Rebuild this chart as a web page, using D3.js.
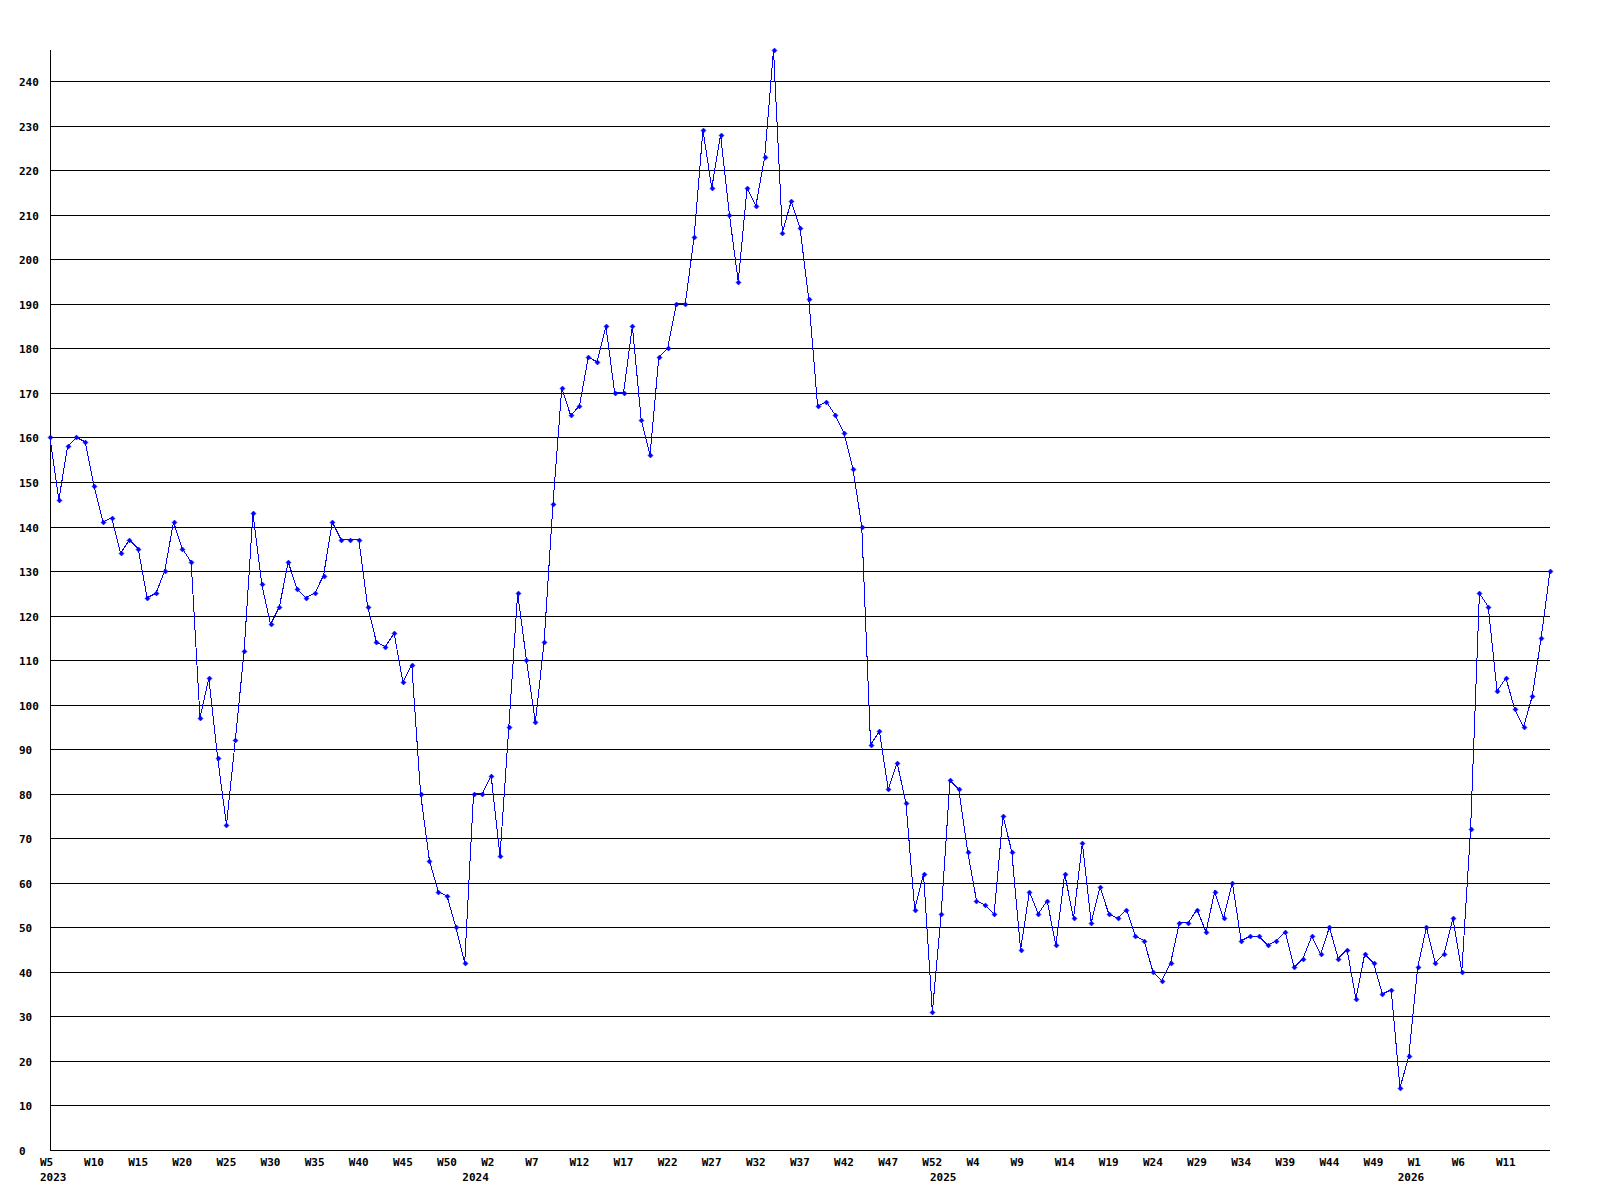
<!DOCTYPE html>
<html>
<head>
<meta charset="utf-8">
<script src="https://cdn.jsdelivr.net/npm/d3@7"></script>
<style>
  body { margin: 0; background: #fff; }
  svg text { font-family: "DejaVu Sans Mono", monospace; font-size: 11px; font-weight: bold; fill: #000; }
</style>
</head>
<body>
<svg id="chart" width="1600" height="1200"></svg>
<script>
// weekly counts, W5 2023 .. last week of the series
const counts = [
  160, 146, 158, 160, 159, 149, 141, 142, 134, 137, 135, 124, 125, 130, 141, 135, 132, 97, 106, 88,
  73, 92, 112, 143, 127, 118, 122, 132, 126, 124, 125, 129, 141, 137, 137, 137, 122, 114, 113, 116,
  105, 109, 80, 65, 58, 57, 50, 42, 80, 80, 84, 66, 95, 125, 110, 96, 114, 145, 171, 165,
  167, 178, 177, 185, 170, 170, 185, 164, 156, 178, 180, 190, 190, 205, 229, 216, 228, 210, 195, 216,
  212, 223, 247, 206, 213, 207, 191, 167, 168, 165, 161, 153, 140, 91, 94, 81, 87, 78, 54, 62,
  31, 53, 83, 81, 67, 56, 55, 53, 75, 67, 45, 58, 53, 56, 46, 62, 52, 69, 51, 59,
  53, 52, 54, 48, 47, 40, 38, 42, 51, 51, 54, 49, 58, 52, 60, 47, 48, 48, 46, 47,
  49, 41, 43, 48, 44, 50, 43, 45, 34, 44, 42, 35, 36, 14, 21, 41, 50, 42, 44, 52,
  40, 72, 125, 122, 103, 106, 99, 95, 102, 115, 130
]

// x tick labels, one every 5 weeks
const weekTicks = [
  'W5', 'W10', 'W15', 'W20', 'W25', 'W30', 'W35', 'W40', 'W45', 'W50',
  'W2', 'W7', 'W12', 'W17', 'W22', 'W27', 'W32', 'W37', 'W42', 'W47', 'W52',
  'W4', 'W9', 'W14', 'W19', 'W24', 'W29', 'W34', 'W39', 'W44', 'W49',
  'W1', 'W6', 'W11'
]
const weekStep = 5

// year labels and the week index where each year starts
const years = ['2023', '2024', '2025', '2026']
const yearStarts = [0, 49, 102, 155]

const yTicks = [0, 10, 20, 30, 40, 50, 60, 70, 80, 90, 100, 110, 120, 130, 140, 150, 160, 170, 180, 190, 200, 210, 220, 230, 240]

const width = 1600
const height = 1200
const margin = { top: 50, right: 50, bottom: 50, left: 50 }

const svg = d3.select('#chart')

const x = d3.scaleLinear()
  .domain([0, counts.length - 1])
  .range([margin.left, width - margin.right])

const y = d3.scaleLinear()
  .domain([0, d3.max(counts)])
  .range([height - margin.bottom, margin.top])

const snap = v => Math.round(v) + 0.5

// grid lines
svg.append('g')
  .selectAll('line')
  .data(yTicks)
  .join('line')
  .attr('x1', x(0))
  .attr('x2', x(counts.length - 1))
  .attr('y1', d => snap(y(d)))
  .attr('y2', d => snap(y(d)))
  .attr('stroke', '#000')
  .attr('shape-rendering', 'crispEdges')

// y axis line
svg.append('line')
  .attr('x1', snap(x(0)))
  .attr('x2', snap(x(0)))
  .attr('y1', y(d3.max(counts)))
  .attr('y2', snap(y(0)))
  .attr('stroke', '#000')
  .attr('shape-rendering', 'crispEdges')

// y labels, left aligned
svg.append('g')
  .selectAll('text')
  .data(yTicks)
  .join('text')
  .attr('x', 19)
  .attr('y', d => snap(y(d)) + 4)
  .text(d => d)

// week labels
svg.append('g')
  .selectAll('text')
  .data(weekTicks)
  .join('text')
  .attr('x', (d, i) => x(i * weekStep) - 10)
  .attr('y', 1166)
  .text(d => d)

// year labels
svg.append('g')
  .selectAll('text')
  .data(years)
  .join('text')
  .attr('x', (d, i) => Math.max(x(yearStarts[i]) - 20, x(0) - 10))
  .attr('y', 1181)
  .text(d => d)

// series
const line = d3.line()
  .x((d, i) => x(i))
  .y(d => y(d))

svg.append('path')
  .datum(counts)
  .attr('d', line)
  .attr('fill', 'none')
  .attr('stroke', '#0000ff')
  .attr('stroke-width', 1)
  .attr('shape-rendering', 'crispEdges')

const r = 2.5
svg.append('g')
  .selectAll('path')
  .data(counts)
  .join('path')
  .attr('transform', (d, i) => `translate(${Math.round(x(i)) + 0.5},${Math.round(y(d)) + 0.5})`)
  .attr('d', `M0,${-r}L${r},0L0,${r}L${-r},0Z`)
  .attr('fill', '#0000ff')
  .attr('stroke', '#0000ff')
  .attr('stroke-width', 0.5)
</script>
</body>
</html>
